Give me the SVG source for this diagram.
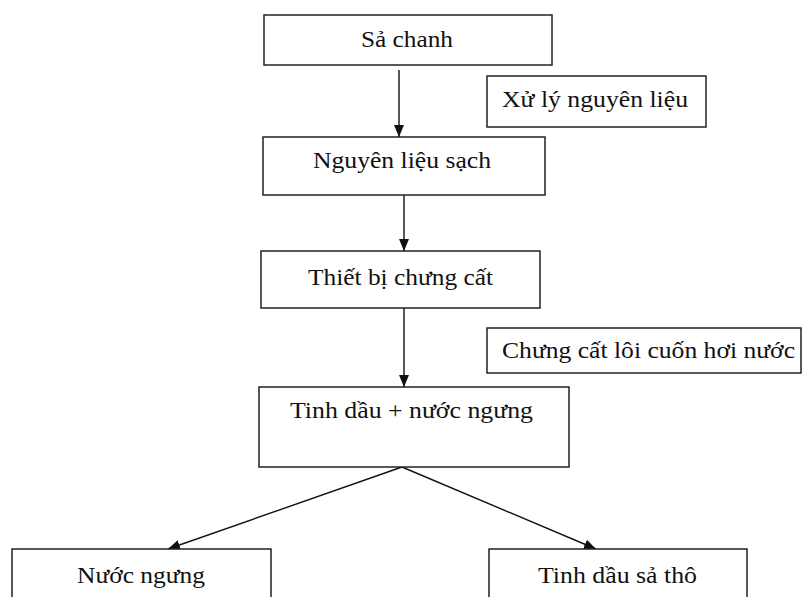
<svg xmlns="http://www.w3.org/2000/svg" width="804" height="597" viewBox="0 0 804 597">
<style>
.box{fill:#fff;stroke:#222;stroke-width:1.5}
.t{font-family:"Liberation Serif","Times New Roman",serif;font-size:24px;fill:#111}
.c{stroke:#111;stroke-width:1.4;fill:none;marker-end:url(#ah)}
</style>
<defs>
<marker id="ah" markerWidth="12" markerHeight="10" viewBox="0 0 12 10" refX="12" refY="5" orient="auto" markerUnits="userSpaceOnUse">
<path d="M0,0 L12,5 L0,10 Z" fill="#111"/>
</marker>
</defs>
<rect width="804" height="597" fill="#fff"/>
<g id="connectors">
<line class="c" x1="399" y1="70" x2="399" y2="137"/>
<line class="c" x1="404" y1="195" x2="404" y2="251"/>
<line class="c" x1="404" y1="308" x2="404" y2="387"/>
<line class="c" x1="402" y1="467" x2="168" y2="549"/>
<line class="c" x1="402" y1="467" x2="596" y2="549"/>
</g>
<g id="n1"><rect class="box" x="264" y="15" width="288" height="50"/><text class="t" x="361" y="47" textLength="92" lengthAdjust="spacingAndGlyphs">Sả chanh</text></g>
<g id="n2"><rect class="box" x="487" y="76" width="219" height="51"/><text class="t" x="502" y="107" textLength="186" lengthAdjust="spacingAndGlyphs">Xử lý nguyên liệu</text></g>
<g id="n3"><rect class="box" x="263" y="137" width="282" height="58"/><text class="t" x="313" y="168" textLength="178" lengthAdjust="spacingAndGlyphs">Nguyên liệu sạch</text></g>
<g id="n4"><rect class="box" x="261" y="251" width="279" height="57"/><text class="t" x="308" y="285" textLength="185" lengthAdjust="spacingAndGlyphs">Thiết bị chưng cất</text></g>
<g id="n5"><rect class="box" x="487" y="328" width="314" height="45"/><text class="t" x="502" y="358" textLength="293" lengthAdjust="spacingAndGlyphs">Chưng cất lôi cuốn hơi nước</text></g>
<g id="n6"><rect class="box" x="259" y="387" width="310" height="80"/><text class="t" x="290" y="418" textLength="243" lengthAdjust="spacingAndGlyphs">Tinh dầu + nước ngưng</text></g>
<g id="n7"><rect class="box" x="12" y="549" width="259" height="60"/><text class="t" x="77" y="583" textLength="128" lengthAdjust="spacingAndGlyphs">Nước ngưng</text></g>
<g id="n8"><rect class="box" x="489" y="549" width="258" height="60"/><text class="t" x="538" y="583" textLength="159" lengthAdjust="spacingAndGlyphs">Tinh dầu sả thô</text></g>
</svg>
